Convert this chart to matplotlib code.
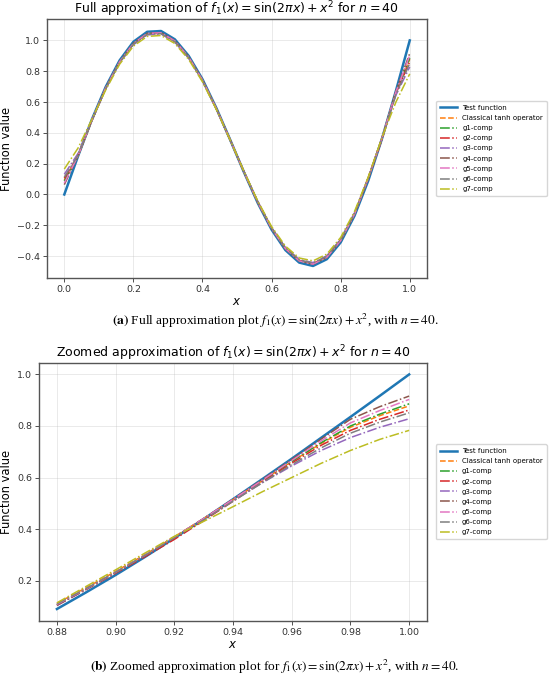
import matplotlib
matplotlib.use("Agg")
import matplotlib.pyplot as plt

# full range, read at steps of 0.04
x_full = [0.00, 0.04, 0.08, 0.12, 0.16, 0.20, 0.24, 0.28, 0.32, 0.36, 0.40, 0.44, 0.48,
          0.52, 0.56, 0.60, 0.64, 0.68, 0.72, 0.76, 0.80, 0.84, 0.88, 0.92, 0.96, 1.00]
test_full = [0.000, 0.250, 0.488, 0.699, 0.870, 0.991, 1.056, 1.061, 1.007, 0.900, 0.748, 0.562, 0.356,
             0.145, -0.055, -0.228, -0.361, -0.442, -0.464, -0.420, -0.311, -0.139, 0.090, 0.365, 0.673, 1.000]
tanh_full = [0.093, 0.253, 0.482, 0.690, 0.858, 0.978, 1.042, 1.047, 0.995, 0.890, 0.740, 0.557, 0.355,
             0.148, -0.049, -0.219, -0.349, -0.428, -0.449, -0.405, -0.296, -0.126, 0.112, 0.370, 0.662, 0.878]
g1_full = [0.087, 0.252, 0.482, 0.690, 0.859, 0.979, 1.043, 1.048, 0.995, 0.890, 0.741, 0.558, 0.355,
           0.147, -0.049, -0.219, -0.350, -0.429, -0.450, -0.406, -0.297, -0.127, 0.106, 0.368, 0.662, 0.886]
g2_full = [0.105, 0.253, 0.481, 0.689, 0.857, 0.977, 1.041, 1.046, 0.993, 0.889, 0.740, 0.557, 0.355,
           0.148, -0.048, -0.218, -0.348, -0.427, -0.448, -0.403, -0.295, -0.125, 0.104, 0.360, 0.656, 0.862]
g3_full = [0.131, 0.267, 0.483, 0.686, 0.853, 0.972, 1.036, 1.042, 0.989, 0.885, 0.737, 0.555, 0.354,
           0.149, -0.046, -0.215, -0.344, -0.422, -0.442, -0.398, -0.290, -0.120, 0.104, 0.368, 0.645, 0.828]
g4_full = [0.064, 0.252, 0.483, 0.692, 0.861, 0.981, 1.046, 1.051, 0.998, 0.892, 0.742, 0.558, 0.355,
           0.147, -0.050, -0.221, -0.352, -0.431, -0.453, -0.408, -0.300, -0.129, 0.105, 0.368, 0.670, 0.916]
g5_full = [0.074, 0.252, 0.483, 0.692, 0.861, 0.980, 1.045, 1.050, 0.997, 0.892, 0.742, 0.558, 0.355,
           0.147, -0.050, -0.220, -0.351, -0.431, -0.452, -0.408, -0.299, -0.128, 0.108, 0.369, 0.666, 0.903]
g6_full = [0.113, 0.254, 0.480, 0.688, 0.856, 0.975, 1.039, 1.044, 0.992, 0.887, 0.738, 0.556, 0.355,
           0.148, -0.048, -0.217, -0.346, -0.425, -0.446, -0.401, -0.293, -0.123, 0.110, 0.366, 0.650, 0.851]
g7_full = [0.165, 0.302, 0.489, 0.679, 0.845, 0.963, 1.026, 1.032, 0.980, 0.877, 0.731, 0.552, 0.354,
           0.151, -0.042, -0.208, -0.335, -0.412, -0.431, -0.387, -0.279, -0.111, 0.114, 0.372, 0.600, 0.783]

# zoomed range, read at steps of 0.01
x_zoom = [0.88, 0.89, 0.90, 0.91, 0.92, 0.93, 0.94, 0.95, 0.96, 0.97, 0.98, 0.99, 1.00]
test_zoom = [0.090, 0.155, 0.222, 0.292, 0.365, 0.439, 0.516, 0.594, 0.673, 0.754, 0.835, 0.917, 1.000]
tanh_zoom = [0.112, 0.173, 0.236, 0.301, 0.370, 0.441, 0.514, 0.588, 0.662, 0.732, 0.795, 0.840, 0.878]
g1_zoom = [0.106, 0.168, 0.232, 0.298, 0.368, 0.440, 0.513, 0.588, 0.662, 0.735, 0.800, 0.846, 0.886]
g2_zoom = [0.104, 0.166, 0.229, 0.293, 0.360, 0.433, 0.508, 0.583, 0.656, 0.725, 0.783, 0.826, 0.862]
g3_zoom = [0.104, 0.167, 0.232, 0.298, 0.368, 0.440, 0.510, 0.580, 0.645, 0.705, 0.755, 0.795, 0.828]
g4_zoom = [0.105, 0.167, 0.231, 0.298, 0.368, 0.441, 0.516, 0.592, 0.670, 0.749, 0.826, 0.875, 0.916]
g5_zoom = [0.108, 0.169, 0.233, 0.299, 0.369, 0.441, 0.515, 0.590, 0.666, 0.742, 0.812, 0.860, 0.903]
g6_zoom = [0.110, 0.170, 0.233, 0.298, 0.366, 0.436, 0.508, 0.580, 0.650, 0.715, 0.772, 0.815, 0.851]
g7_zoom = [0.114, 0.178, 0.242, 0.307, 0.372, 0.430, 0.487, 0.545, 0.600, 0.655, 0.705, 0.748, 0.783]

labels = ['Test function', 'Classical tanh operator', 'g1-comp', 'g2-comp', 'g3-comp',
          'g4-comp', 'g5-comp', 'g6-comp', 'g7-comp']
colors = ['#1f77b4', '#ff7f0e', '#2ca02c', '#d62728', '#9467bd',
          '#8c564b', '#e377c2', '#7f7f7f', '#bcbd22']

plt.rcParams['mathtext.fontset'] = 'dejavusans'

fig = plt.figure(figsize=(5.5, 6.81), dpi=100)
ax1 = fig.add_axes([0.0855, 0.5922, 0.6909, 0.3795])
ax2 = fig.add_axes([0.0715, 0.0885, 0.7044, 0.3789])


def draw(ax, xs, series, title):
    for i, ys in enumerate(series):
        if i == 0:
            ax.plot(xs, ys, color=colors[i], lw=1.8, label=labels[i])
        elif i == 1:
            ax.plot(xs, ys, '--', color=colors[i], lw=1.1, label=labels[i])
        else:
            ax.plot(xs, ys, '-.', color=colors[i], lw=1.1, label=labels[i])
    ax.set_title(title, fontsize=9, pad=3)
    ax.set_xlabel('$x$', fontsize=8.5, labelpad=1)
    ax.set_ylabel('Function value', fontsize=8.3, labelpad=3)
    ax.tick_params(labelsize=6.8, length=3, width=0.6, pad=2, colors='#333333')
    ax.grid(True, alpha=0.3, lw=0.6)
    for s in ax.spines.values():
        s.set_color('#555555')
        s.set_linewidth(1.0)
    ax.legend(loc='center left', bbox_to_anchor=(1.015, 0.5), fontsize=5.0,
              handlelength=2.5, handletextpad=0.7, labelspacing=0.6, borderpad=0.55,
              framealpha=0.8)


draw(ax1, x_full, [test_full, tanh_full, g1_full, g2_full, g3_full, g4_full, g5_full, g6_full, g7_full],
     r'Full approximation of $f_1(x) = \sin(2\pi x) + x^2$ for $n = 40$')
ax1.set_xticks([0.0, 0.2, 0.4, 0.6, 0.8, 1.0])
ax1.set_yticks([-0.4, -0.2, 0.0, 0.2, 0.4, 0.6, 0.8, 1.0])

draw(ax2, x_zoom, [test_zoom, tanh_zoom, g1_zoom, g2_zoom, g3_zoom, g4_zoom, g5_zoom, g6_zoom, g7_zoom],
     r'Zoomed approximation of $f_1(x) = \sin(2\pi x) + x^2$ for $n = 40$')
ax2.set_xticks([0.88, 0.90, 0.92, 0.94, 0.96, 0.98, 1.00])
ax2.set_xticklabels(['0.88', '0.90', '0.92', '0.94', '0.96', '0.98', '1.00'])
ax2.set_yticks([0.2, 0.4, 0.6, 0.8, 1.0])

fig.text(0.5, 1 - 321 / 681, r'$\mathbf{(a)}$ Full approximation plot $f_1(x) = \sin(2\pi x) + x^2$, with $n = 40$.',
         ha='center', va='center', fontsize=9.6, family='Liberation Serif', math_fontfamily='stix')
fig.text(0.5, 1 - 667 / 681, r'$\mathbf{(b)}$ Zoomed approximation plot for $f_1(x) = \sin(2\pi x) + x^2$, with $n = 40$.',
         ha='center', va='center', fontsize=9.6, family='Liberation Serif', math_fontfamily='stix')

fig.savefig('out.png', dpi=100)
